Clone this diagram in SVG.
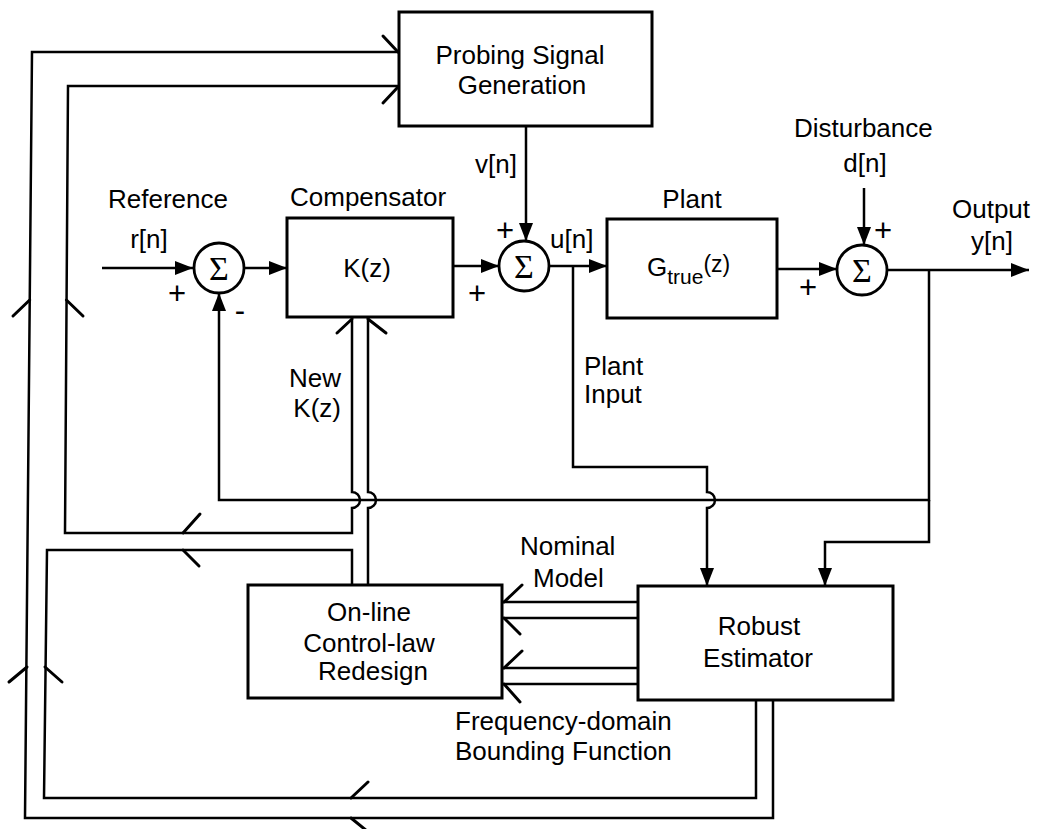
<svg xmlns="http://www.w3.org/2000/svg" width="1039" height="829" viewBox="0 0 1039 829">
<style>
.box{fill:#fff;stroke:#000;stroke-width:3}
.sum{fill:#fff;stroke:#000;stroke-width:2.8}
.ln{fill:none;stroke:#000;stroke-width:2.5}
.ch{fill:none;stroke:#000;stroke-width:3;stroke-linecap:round}
text{font-family:"Liberation Sans",Arial,Helvetica,sans-serif;font-size:26px;fill:#000}
.m{text-anchor:middle}
.e{text-anchor:end}
.sig{font-family:"Liberation Serif","Times New Roman",serif;font-size:34px;text-anchor:middle}
.pm{font-size:31px;text-anchor:middle}
</style>
<defs>
<marker id="arr" viewBox="0 0 18 14" refX="18" refY="7" markerWidth="18" markerHeight="14" markerUnits="userSpaceOnUse" orient="auto">
<path d="M0,0 L18,7 L0,14 z" fill="#000"/>
</marker>
</defs>
<rect width="1039" height="829" fill="#fff"/>

<g id="connectors">
<path class="ln" d="M102,268 H193" marker-end="url(#arr)"/>
<path class="ln" d="M244,268 H287" marker-end="url(#arr)"/>
<path class="ln" d="M453,266 H499" marker-end="url(#arr)"/>
<path class="ln" d="M526,126 V241" marker-end="url(#arr)"/>
<path class="ln" d="M549,266 H607" marker-end="url(#arr)"/>
<path class="ln" d="M777,269 H837" marker-end="url(#arr)"/>
<path class="ln" d="M864,188 V245" marker-end="url(#arr)"/>
<path class="ln" d="M887,270 H1029" marker-end="url(#arr)"/>
<path class="ln" d="M929,270 V500 H219 V293" marker-end="url(#arr)"/>
<path class="ln" d="M929,500 V542 H825 V586" marker-end="url(#arr)"/>
<path class="ln" d="M573,266 V467 H707 V492 A8,8 0 0 1 707,508 V586" marker-end="url(#arr)"/>
<path class="ln" d="M399,86 H68 L65,533 H352 V508 A8,8 0 0 0 352,492 V318"/>
<path class="ln" d="M368,585 V508 A8,8 0 0 0 368,492 V318"/>
<path class="ln" d="M352,585 V550 H47 L44,798 H756 V700"/>
<path class="ln" d="M773,700 V818 H25 L32,52 H399"/>
<path class="ln" d="M638,602 H503 M638,618 H503 M638,668 H503 M638,684 H503"/>
<path class="ch" d="M522,585 L504,602 M504,618 L520,634"/>
<path class="ch" d="M522,651 L504,668 M504,684 L520,702"/>
<path class="ch" d="M383,36 L398,52 M398,87 L383,103"/>
<path class="ch" d="M337,333 L352,319 M368,319 L386,333"/>
<path class="ch" d="M200,514 L183,533 M183,550 L199,566"/>
<path class="ch" d="M29.7,300 L13,316 M66.4,300 L83,316"/>
<path class="ch" d="M27,667 L9,682 M45,667 L62,682"/>
<path class="ch" d="M368,782 L351,798 M351,818 L367,831"/>
</g>

<g id="probing">
<rect class="box" x="399" y="12" width="253" height="114"/>
<text class="m" x="520" y="64">Probing Signal</text>
<text class="m" x="522" y="94">Generation</text>
</g>

<g id="compensator">
<rect class="box" x="287" y="218" width="166" height="99"/>
<text class="m" x="367" y="277">K(z)</text>
</g>

<g id="plant">
<rect class="box" x="607" y="219" width="170" height="99"/>
<text x="647" y="276" font-size="27">G<tspan font-size="21" dy="8">true</tspan><tspan font-size="23" dy="-12">(z)</tspan></text>
</g>

<g id="sum1">
<circle class="sum" cx="219" cy="268" r="25"/>
<text class="sig" x="219" y="280">Σ</text>
</g>
<g id="sum2">
<circle class="sum" cx="524" cy="266" r="25"/>
<text class="sig" x="524" y="278">Σ</text>
</g>
<g id="sum3">
<circle class="sum" cx="862" cy="270" r="25"/>
<text class="sig" x="862" y="282">Σ</text>
</g>

<g id="online">
<rect class="box" x="248" y="585" width="254" height="113"/>
<text class="m" x="369" y="621">On-line</text>
<text class="m" x="369" y="652">Control-law</text>
<text class="m" x="373" y="680">Redesign</text>
</g>

<g id="robust">
<rect class="box" x="638" y="586" width="255" height="114"/>
<text class="m" x="759" y="635">Robust</text>
<text class="m" x="758" y="667">Estimator</text>
</g>

<g id="labels">
<text class="m" x="168" y="208">Reference</text>
<text class="m" x="149" y="248">r[n]</text>
<text x="290" y="206">Compensator</text>
<text x="475" y="173">v[n]</text>
<text x="550" y="248">u[n]</text>
<text class="m" x="692" y="208">Plant</text>
<text x="794" y="137">Disturbance</text>
<text class="m" x="865" y="172">d[n]</text>
<text x="952" y="218">Output</text>
<text x="971" y="250">y[n]</text>
<text class="e" x="341" y="387">New</text>
<text class="e" x="341" y="417">K(z)</text>
<text x="584" y="375">Plant</text>
<text x="584" y="403">Input</text>
<text x="520" y="555">Nominal</text>
<text x="533" y="587">Model</text>
<text x="455" y="730">Frequency-domain</text>
<text x="455" y="760">Bounding Function</text>
<text class="pm" x="177" y="304">+</text>
<text class="pm" x="240" y="321">-</text>
<text class="pm" x="477" y="304">+</text>
<text class="pm" x="505" y="241">+</text>
<text class="pm" x="883" y="241">+</text>
<text class="pm" x="808" y="298">+</text>
</g>
</svg>
